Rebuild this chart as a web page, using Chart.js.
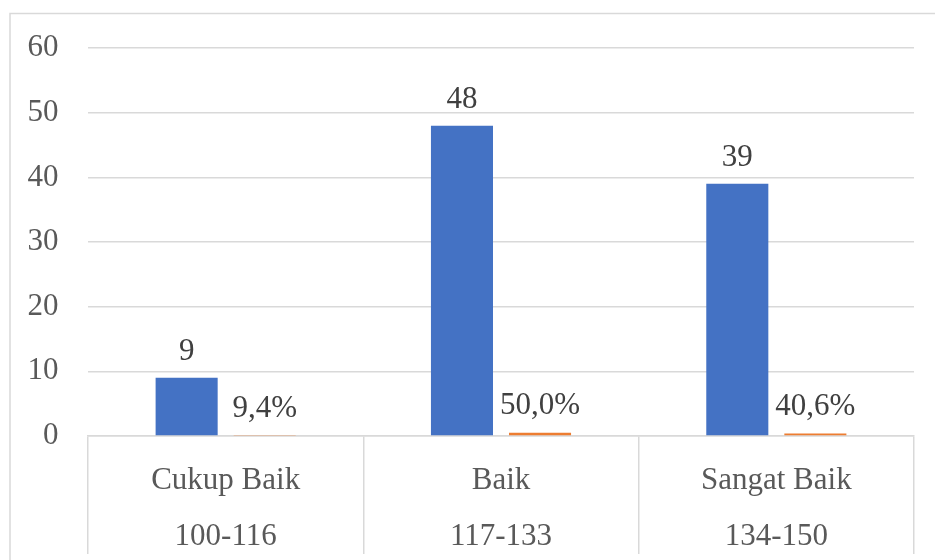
<!DOCTYPE html>
<html>
<head>
<meta charset="utf-8">
<script src="https://cdn.jsdelivr.net/npm/chart.js@4/dist/chart.umd.min.js"></script>
<style>
  html, body { margin: 0; padding: 0; background: #ffffff; overflow: hidden; }
  #wrap { position: relative; width: 935px; height: 560px; }
  canvas { display: block; }
</style>
</head>
<body>
<div id="wrap"><canvas id="chart" width="935" height="560"></canvas></div>
<script>
// Score categories and their score ranges (two-level category axis)
const categories = ['Cukup Baik', 'Baik', 'Sangat Baik'];
const scoreRanges = ['100-116', '117-133', '134-150'];
// Number of respondents per category
const frequencies = [9, 48, 39];
// Share of respondents per category, in percent
const percentages = [9.4, 50.0, 40.6];
// Value axis ticks
const yTicks = [0, 10, 20, 30, 40, 50, 60];

const FONT = "'Liberation Serif', 'Times New Roman', serif";
const GRID = '#d9d9d9';

// Outer frame of the chart area
const framePlugin = {
  id: 'frame',
  beforeDraw(chart) {
    const ctx = chart.ctx;
    ctx.save();
    ctx.strokeStyle = GRID;
    ctx.lineWidth = 1.5;
    ctx.strokeRect(10, 13.5, 1000, 1000);
    ctx.restore();
  }
};

// Value labels above each bar
const valueLabels = {
  id: 'valueLabels',
  afterDatasetsDraw(chart) {
    const ctx = chart.ctx;
    ctx.save();
    ctx.font = '31px ' + FONT;
    ctx.fillStyle = '#404040';
    ctx.textAlign = 'center';
    ctx.textBaseline = 'alphabetic';
    chart.data.datasets.forEach((ds, di) => {
      const meta = chart.getDatasetMeta(di);
      meta.data.forEach((bar, i) => {
        const v = ds.data[i];
        const text = di === 0
          ? String(v)
          : (v * 100).toFixed(1).replace('.', ',') + '%';
        const off = di === 0 ? 17.5 : 18.5;
        ctx.fillText(text, bar.x, bar.y - off);
      });
    });
    ctx.restore();
  }
};

new Chart(document.getElementById('chart'), {
  type: 'bar',
  data: {
    labels: categories.map((c, i) => [c, scoreRanges[i]]),
    datasets: [
      {
        label: 'Frekuensi',
        data: frequencies,
        backgroundColor: '#4472c4',
        categoryPercentage: 0.567,
        barPercentage: 0.795
      },
      {
        label: 'Persentase',
        data: percentages.map(p => p / 100),
        backgroundColor: '#ed7d31',
        categoryPercentage: 0.567,
        barPercentage: 0.795
      }
    ]
  },
  options: {
    responsive: false,
    animation: false,
    devicePixelRatio: 1,
    layout: { padding: { left: 0, right: 21, top: 45, bottom: 0 } },
    plugins: {
      legend: { display: false },
      tooltip: { enabled: false }
    },
    scales: {
      x: {
        offset: true,
        grid: {
          offset: true,
          drawOnChartArea: false,
          drawTicks: true,
          tickLength: 118,
          color: GRID,
          lineWidth: 1.5
        },
        border: { display: true, color: GRID, width: 1.5 },
        ticks: {
          color: '#595959',
          font: { family: FONT, size: 31, lineHeight: 56 / 31 },
          padding: -101.5,
          maxRotation: 0,
          autoSkip: false
        },
        afterFit(scale) { scale.height = 124; }
      },
      y: {
        min: 0,
        max: 60,
        afterBuildTicks(scale) { scale.ticks = yTicks.map(v => ({ value: v })); },
        grid: {
          drawTicks: false,
          color: GRID,
          lineWidth: 1.5
        },
        border: { display: false },
        ticks: {
          color: '#595959',
          font: { family: FONT, size: 31 },
          padding: 29.5
        },
        afterFit(scale) { scale.width = 88; }
      }
    }
  },
  plugins: [framePlugin, valueLabels]
});
</script>
</body>
</html>
